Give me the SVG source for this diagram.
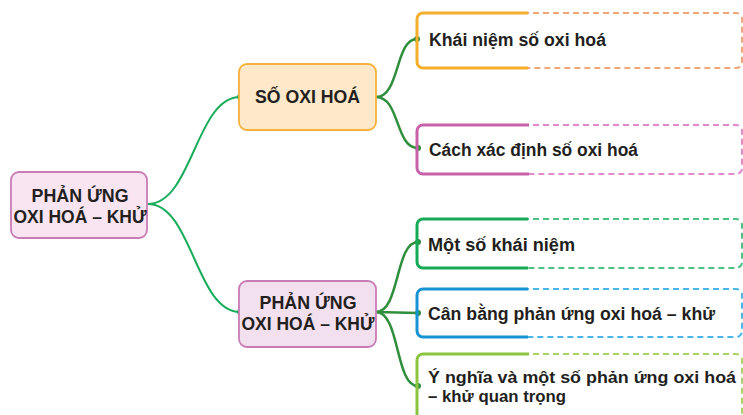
<svg xmlns="http://www.w3.org/2000/svg" width="743" height="415" viewBox="0 0 743 415">
<style>
text{font-family:"Liberation Sans","DejaVu Sans",sans-serif;font-weight:bold;fill:#231f20}
.main{font-size:18px;text-anchor:middle}
.leaf{font-size:17.5px}
.leaf2{font-size:16px}
.c1{fill:none;stroke:#17ad5b;stroke-width:2}
.c2{fill:none;stroke:#2f8f3c;stroke-width:2.5}
.dot1{fill:#17ad5b}
.dot2{fill:#2f8f3c}
.dash{fill:none;stroke-width:2;stroke-dasharray:6 4}
.solid{fill:none;stroke-width:3}
</style>
<g id="connectors">
<path class="c1" d="M148,204 C192,204 196,97 240,97"/>
<path class="c1" d="M148,204 C192,204 196,312 240,312"/>
<path class="c2" d="M376,97 C400,97 395,39 417,39"/>
<path class="c2" d="M376,97 C400,97 395,148 418,148"/>
<path class="c2" d="M376,312 C400,312 395,242 418,242"/>
<path class="c2" d="M376,312 L418,313"/>
<path class="c2" d="M376,312 C400,312 395,386 418,386"/>
<circle class="dot1" cx="240" cy="97" r="3"/>
<circle class="dot1" cx="240" cy="312" r="3"/>
<circle class="dot2" cx="417" cy="39" r="3"/>
<circle class="dot2" cx="418" cy="148" r="3"/>
<circle class="dot2" cx="418" cy="242" r="3"/>
<circle class="dot2" cx="418" cy="313" r="3"/>
<circle class="dot2" cx="418" cy="386" r="3"/>
</g>
<g id="root">
<rect x="11" y="172" width="136" height="66" rx="8" fill="#f9e5f1" stroke="#c97bb6" stroke-width="1.8"/>
<text class="main" x="80" y="202" textLength="97" lengthAdjust="spacingAndGlyphs">PHẢN ỨNG</text>
<text class="main" x="80" y="223" textLength="133" lengthAdjust="spacingAndGlyphs">OXI HOÁ – KHỬ</text>
</g>
<g id="so-oxi-hoa">
<rect x="239" y="64" width="137" height="66" rx="8" fill="#fde8c9" stroke="#f6b13c" stroke-width="1.8"/>
<text class="main" x="307.5" y="103" textLength="105" lengthAdjust="spacingAndGlyphs">SỐ OXI HOÁ</text>
</g>
<g id="phan-ung">
<rect x="239" y="281" width="137" height="66" rx="8" fill="#f3e0ef" stroke="#c97bb6" stroke-width="1.8"/>
<text class="main" x="308" y="309" textLength="97" lengthAdjust="spacingAndGlyphs">PHẢN ỨNG</text>
<text class="main" x="308" y="330" textLength="133" lengthAdjust="spacingAndGlyphs">OXI HOÁ – KHỬ</text>
</g>
<g id="khai-niem-so-oxi-hoa">
<rect class="dash" x="417" y="13" width="325" height="55" rx="6" stroke="#f0a679"/>
<path class="solid" d="M528,13 H423 A6,6 0 0 0 417,19 V62 A6,6 0 0 0 423,68 H528" stroke="#f6ae2d"/>
<text class="leaf" x="429" y="46" textLength="177" lengthAdjust="spacingAndGlyphs">Khái niệm số oxi hoá</text>
</g>
<g id="cach-xac-dinh">
<rect class="dash" x="417" y="125" width="325" height="49" rx="6" stroke="#e08acb"/>
<path class="solid" d="M529,125 H423 A6,6 0 0 0 417,131 V168 A6,6 0 0 0 423,174 H529" stroke="#c762aa"/>
<text class="leaf" x="429" y="156" textLength="209" lengthAdjust="spacingAndGlyphs">Cách xác định số oxi hoá</text>
</g>
<g id="mot-so-khai-niem">
<rect class="dash" x="417" y="219" width="325" height="49" rx="6" stroke="#4cc282"/>
<path class="solid" d="M528,219 H423 A6,6 0 0 0 417,225 V262 A6,6 0 0 0 423,268 H528" stroke="#16a956"/>
<text class="leaf" x="428" y="251" textLength="147" lengthAdjust="spacingAndGlyphs">Một số khái niệm</text>
</g>
<g id="can-bang">
<rect class="dash" x="417" y="289" width="325" height="48" rx="6" stroke="#4ab5e8"/>
<path class="solid" d="M528,289 H423 A6,6 0 0 0 417,295 V331 A6,6 0 0 0 423,337 H528" stroke="#1793d3"/>
<text class="leaf" x="428" y="320" textLength="287" lengthAdjust="spacingAndGlyphs">Cân bằng phản ứng oxi hoá – khử</text>
</g>
<g id="y-nghia">
<rect class="dash" x="417" y="354" width="325" height="70" rx="6" stroke="#a6d46b"/>
<path class="solid" d="M529,354 H423 A6,6 0 0 0 417,360 V420" stroke="#8bc53f"/>
<text class="leaf2" x="428" y="383" textLength="308" lengthAdjust="spacingAndGlyphs">Ý nghĩa và một số phản ứng oxi hoá</text>
<text class="leaf2" x="428" y="402" textLength="138" lengthAdjust="spacingAndGlyphs">– khử quan trọng</text>
</g>
</svg>
